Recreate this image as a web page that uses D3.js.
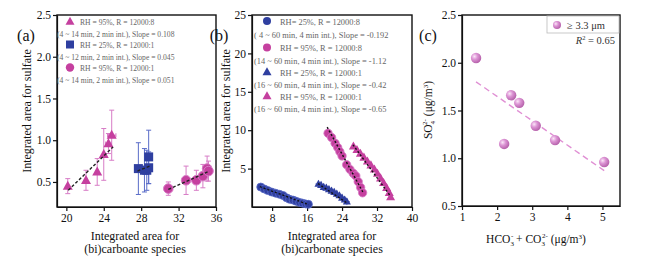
<!DOCTYPE html>
<html>
<head>
<meta charset="utf-8">
<script src="https://cdn.jsdelivr.net/npm/d3@7"></script>
<style>
  body { margin: 0; background: #fff; }
  svg { display: block; font-family: "Liberation Serif", "DejaVu Serif", serif; }
  .axis text { font-size: 11.5px; fill: #111; font-family: "Liberation Serif", serif; }
  .axis path, .axis line { stroke: #111; stroke-width: 1.2; }
  .leg { font-size: 8.4px; fill: #666; }
  .leg.small { font-size: 7.6px; }
</style>
</head>
<body>
<svg id="chart" width="646" height="262"></svg>
<script>
// ---- panel (a) data ----
const aTriX = [20.15, 22.1, 23.3, 24.0, 24.5, 24.85];
const aTriY = [0.45, 0.52, 0.62, 0.83, 0.96, 1.06];
const aTriErr = [0.09, 0.12, 0.16, 0.31, 0.12, 0.3];
const aTriXErr = [0, 0, 0, 0, 0.3, 0.45];
const aSqX = [27.7, 28.35, 28.6, 28.8, 28.8];
const aSqY = [0.66, 0.64, 0.64, 0.67, 0.8];
const aSqErr = [0.31, 0.26, 0.24, 0.19, 0.32];
const aCirX = [30.9, 32.8, 33.9, 34.6, 35.05, 35.2];
const aCirY = [0.42, 0.52, 0.52, 0.57, 0.66, 0.63];
const aCirErr = [0.08, 0.17, 0.12, 0.14, 0.15, 0.12];
const aFitTri = [[20.2, 0.4], [25.0, 0.92]];
const aFitSq = [[27.6, 0.63], [28.9, 0.69]];
const aFitCir = [[30.9, 0.41], [35.3, 0.63]];
const aXTicks = [20, 24, 28, 32, 36];
const aYTicks = [0.5, 1.0, 1.5, 2.0, 2.5];

// ---- panel (b) data ----
const bBlueCirX = [5.4, 6.2, 7.0, 7.9, 8.8, 9.7, 10.5, 11.3, 12.0, 12.8, 13.5, 14.3, 15.0, 15.7, 16.3];
const bBlueCirY = [2.6, 2.35, 2.15, 1.95, 1.8, 1.65, 1.5, 1.2, 1.0, 0.9, 0.75, 0.6, 0.5, 0.4, 0.35];
const bBlueTriX = [18.6, 19.2, 19.8, 20.4, 21.0, 21.6, 22.2, 22.8, 23.4, 24.0, 24.6, 25.1];
const bBlueTriY = [3.0, 2.85, 2.6, 2.5, 2.3, 2.1, 1.95, 1.7, 1.5, 1.2, 0.95, 0.7];
const bPinkCirX = [20.8, 21.6, 22.4, 23.0, 23.5, 24.0, 25.05, 25.8, 26.55, 27.15, 27.7, 28.25, 28.7];
const bPinkCirY = [9.6, 9.05, 8.3, 7.75, 7.2, 6.65, 5.5, 4.9, 4.4, 4.05, 3.3, 2.55, 1.85];
const bPinkTriX = [26.6, 27.4, 28.2, 29.0, 29.8, 30.6, 31.4, 32.1, 32.8, 33.5, 34.2, 34.8, 35.1];
const bPinkTriY = [7.9, 7.45, 6.95, 6.45, 5.95, 5.45, 4.9, 4.35, 3.75, 3.15, 2.5, 1.85, 1.3];
const bFits = [
  [[5.2, 2.65], [16.4, 0.3]],
  [[18.5, 3.05], [25.2, 0.5]],
  [[20.6, 10.4], [28.9, 1.8]],
  [[26.5, 8.1], [35.1, 1.4]]
];
const bXTicks = [8, 16, 24, 32, 40];
const bYTicks = [5, 10, 15, 20, 25];

// ---- panel (c) data ----
const cX = [1.4, 2.4, 2.63, 3.1, 2.2, 3.65, 5.05];
const cY = [2.05, 1.66, 1.58, 1.34, 1.15, 1.19, 0.96];
const cFit = [[1.4, 1.8], [5.05, 0.87]];
const cXTicks = [1, 2, 3, 4, 5];
const cYTicks = [0.5, 1.0, 1.5, 2.0, 2.5];

const magenta = "#c5409f";
const magentaLight = "#d77cc6";
const blue = "#2f3fa0";
const blueLight = "#5a6cc8";

const svg = d3.select("#chart");
const defs = svg.append("defs");
const grad = defs.append("radialGradient").attr("id", "sphere")
  .attr("cx", "35%").attr("cy", "35%").attr("r", "65%");
grad.append("stop").attr("offset", "0%").attr("stop-color", "#fbe6f8");
grad.append("stop").attr("offset", "45%").attr("stop-color", "#dc94d4");
grad.append("stop").attr("offset", "100%").attr("stop-color", "#b864ad");

// axes + frame for one panel
function makePanel(box, xDom, yDom, xTicks, yTicks, yFmt) {
  const x = d3.scaleLinear().domain(xDom).range([box.l, box.r]);
  const y = d3.scaleLinear().domain(yDom).range([box.b, box.t]);
  svg.append("g").attr("class", "axis")
    .attr("transform", "translate(0," + box.b + ")")
    .call(d3.axisBottom(x).tickValues(xTicks).tickSize(4).tickSizeOuter(0).tickPadding(3).tickFormat(d3.format("d")));
  svg.append("g").attr("class", "axis")
    .attr("transform", "translate(" + box.l + ",0)")
    .call(d3.axisLeft(y).tickValues(yTicks).tickSize(4).tickSizeOuter(0).tickPadding(2).tickFormat(yFmt));
  svg.append("rect")
    .attr("x", box.l).attr("y", box.t)
    .attr("width", box.r - box.l).attr("height", box.b - box.t)
    .attr("fill", "none").attr("stroke", "#111").attr("stroke-width", 1.4);
  return {x, y};
}

function tri(cx, cy, s) {
  const h = s * 0.9;
  return "M" + cx + "," + (cy - h * 0.6) + "L" + (cx + s / 2) + "," + (cy + h * 0.4) + "L" + (cx - s / 2) + "," + (cy + h * 0.4) + "Z";
}

function fitLine(sc, pts, color, dash) {
  svg.append("line")
    .attr("x1", sc.x(pts[0][0])).attr("y1", sc.y(pts[0][1]))
    .attr("x2", sc.x(pts[1][0])).attr("y2", sc.y(pts[1][1]))
    .attr("stroke", color).attr("stroke-width", 1.4).attr("stroke-dasharray", dash);
}

function errBars(sc, xs, ys, errs, xerrs, color) {
  const g = svg.append("g").attr("stroke", color).attr("stroke-width", 1);
  xs.forEach((xv, i) => {
    const px = sc.x(xv);
    const y1 = sc.y(ys[i] + errs[i]), y2 = sc.y(ys[i] - errs[i]);
    g.append("line").attr("x1", px).attr("x2", px).attr("y1", y1).attr("y2", y2);
    g.append("line").attr("x1", px - 2.5).attr("x2", px + 2.5).attr("y1", y1).attr("y2", y1);
    g.append("line").attr("x1", px - 2.5).attr("x2", px + 2.5).attr("y1", y2).attr("y2", y2);
    if (xerrs && xerrs[i] > 0) {
      const py = sc.y(ys[i]);
      const xa = sc.x(xv - xerrs[i]), xb = sc.x(xv + xerrs[i]);
      g.append("line").attr("x1", xa).attr("x2", xb).attr("y1", py).attr("y2", py);
      g.append("line").attr("x1", xa).attr("x2", xa).attr("y1", py - 2).attr("y2", py + 2);
      g.append("line").attr("x1", xb).attr("x2", xb).attr("y1", py - 2).attr("y2", py + 2);
    }
  });
}

function label(x, y, txt, size, rotate) {
  const t = svg.append("text").attr("font-size", size).attr("fill", "#111")
    .attr("text-anchor", "middle");
  if (rotate) t.attr("transform", "translate(" + x + "," + y + ") rotate(-90)");
  else t.attr("x", x).attr("y", y);
  t.text(txt);
  return t;
}

function legText(x, y, txt, cls) {
  svg.append("text").attr("class", "leg" + (cls ? " " + cls : "")).attr("x", x).attr("y", y).text(txt);
}

// ================= panel (a) =================
const A = makePanel({l: 57, r: 216, t: 15, b: 207}, [19, 36], [0.2, 2.5], aXTicks, aYTicks, d3.format(".1f"));
errBars(A, aTriX, aTriY, aTriErr, aTriXErr, magentaLight);
errBars(A, aSqX, aSqY, aSqErr, null, blueLight);
errBars(A, aCirX, aCirY, aCirErr, null, magentaLight);
svg.append("g").selectAll("path").data(aTriX).join("path")
  .attr("d", (d, i) => tri(A.x(d), A.y(aTriY[i]), 10)).attr("fill", magenta);
svg.append("g").selectAll("rect").data(aSqX).join("rect")
  .attr("x", (d) => A.x(d) - 4.5).attr("y", (d, i) => A.y(aSqY[i]) - 4.5)
  .attr("width", 9).attr("height", 9).attr("fill", blue);
svg.append("g").selectAll("circle").data(aCirX).join("circle")
  .attr("cx", (d) => A.x(d)).attr("cy", (d, i) => A.y(aCirY[i])).attr("r", 4.8)
  .attr("fill", magenta).attr("stroke", magentaLight).attr("stroke-width", 1);
fitLine(A, aFitTri, "#222", "3,2");
fitLine(A, aFitSq, "#222", "3,2");
fitLine(A, aFitCir, "#222", "3,2");

svg.append("path").attr("d", tri(70, 21.5, 9)).attr("fill", magenta);
legText(80, 25, "RH = 95%, R = 12000:8", "small");
legText(57, 36.5, "(4 ~ 14 min, 2 min int.), Slope = 0.108", "small");
svg.append("rect").attr("x", 66).attr("y", 40.5).attr("width", 8).attr("height", 8).attr("fill", blue);
legText(80, 48, "RH = 25%, R = 12000:1", "small");
legText(57, 59.5, "(4 ~ 12 min, 2 min int.), Slope = 0.045", "small");
svg.append("circle").attr("cx", 70).attr("cy", 67.5).attr("r", 4.2).attr("fill", magenta);
legText(80, 71, "RH = 95%, R = 12000:1", "small");
legText(57, 82.5, "(4 ~ 14 min, 2 min int.), Slope = 0.051", "small");

label(26, 41, "(a)", 16);
label(31, 111, "Integrated area for sulfate", 12, true);
label(135, 240, "Integrated area for", 12);
label(135, 253, "(bi)carboante species", 12);

// ================= panel (b) =================
const B = makePanel({l: 252, r: 412, t: 15, b: 207}, [3.4, 40], [0, 25], bXTicks, bYTicks, d3.format("d"));
// scattered uncertainty of the blue triangles
const gB = svg.append("g").attr("stroke", blueLight).attr("stroke-width", 0.9);
bBlueTriX.forEach((xv, i) => {
  const px = B.x(xv), py = B.y(bBlueTriY[i]);
  gB.append("line").attr("x1", B.x(xv - 0.7)).attr("x2", B.x(xv + 0.7)).attr("y1", py).attr("y2", py);
  gB.append("line").attr("x1", px).attr("x2", px).attr("y1", B.y(bBlueTriY[i] + 0.45)).attr("y2", B.y(bBlueTriY[i] - 0.45));
});
svg.append("g").selectAll("circle").data(bBlueCirX).join("circle")
  .attr("cx", (d) => B.x(d)).attr("cy", (d, i) => B.y(bBlueCirY[i])).attr("r", 4)
  .attr("fill", blue).attr("stroke", blueLight).attr("stroke-width", 0.8);
svg.append("g").selectAll("path").data(bBlueTriX).join("path")
  .attr("d", (d, i) => tri(B.x(d), B.y(bBlueTriY[i]), 8)).attr("fill", blue);
svg.append("g").selectAll("circle").data(bPinkCirX).join("circle")
  .attr("cx", (d) => B.x(d)).attr("cy", (d, i) => B.y(bPinkCirY[i])).attr("r", 4.2)
  .attr("fill", magenta).attr("stroke", magentaLight).attr("stroke-width", 0.8);
svg.append("g").selectAll("path").data(bPinkTriX).join("path")
  .attr("d", (d, i) => tri(B.x(d), B.y(bPinkTriY[i]), 9)).attr("fill", magenta);
bFits.forEach((f) => fitLine(B, f, "#111", "2,2"));

svg.append("circle").attr("cx", 267).attr("cy", 21).attr("r", 4).attr("fill", blue);
legText(280, 24.5, "RH= 25%, R = 12000:8");
legText(254, 38, "( 4 ~ 60 min, 4 min int.),  Slope = -0.192");
svg.append("circle").attr("cx", 267).attr("cy", 47.5).attr("r", 4).attr("fill", magenta);
legText(280, 51, "RH = 95%, R = 12000:8");
legText(254, 63.5, "(14 ~ 60 min, 4 min int.), Slope = -1.12");
svg.append("path").attr("d", tri(267, 72, 9)).attr("fill", blue);
legText(280, 75.5, "RH = 25%, R = 12000:1");
legText(254, 88, "(16 ~ 60 min, 4 min int.), Slope = -0.42");
svg.append("path").attr("d", tri(267, 96, 9)).attr("fill", magenta);
legText(280, 99.5, "RH = 95%, R = 12000:1");
legText(254, 112, "(16 ~ 60 min, 4 min int.), Slope = -0.65");

label(219, 41, "(b)", 16);
label(230, 111, "Integrated area for sulfate", 12, true);
label(332, 240, "Integrated area for", 12);
label(332, 253, "(bi)carbonate species", 12);

// ================= panel (c) =================
const C = makePanel({l: 462, r: 620, t: 15, b: 206}, [1, 5.5], [0.5, 2.5], cXTicks, cYTicks, d3.format(".1f"));
fitLine(C, cFit, "#e08fd4", "6,4");
svg.append("g").selectAll("circle").data(cX).join("circle")
  .attr("cx", (d) => C.x(d)).attr("cy", (d, i) => C.y(cY[i])).attr("r", 5.2)
  .attr("fill", "url(#sphere)");
svg.append("rect").attr("x", 547).attr("y", 16).attr("width", 72).attr("height", 17)
  .attr("fill", "#fff").attr("stroke", "#bbb").attr("stroke-width", 0.8);
svg.append("circle").attr("cx", 557).attr("cy", 25).attr("r", 4).attr("fill", "url(#sphere)");
svg.append("text").attr("x", 567).attr("y", 28.5).attr("font-size", 10.5).attr("fill", "#333").text("≥ 3.3 μm");
const r2 = svg.append("text").attr("x", 615).attr("y", 44).attr("font-size", 10.5)
  .attr("fill", "#333").attr("text-anchor", "end");
r2.append("tspan").attr("font-style", "italic").text("R");
r2.append("tspan").attr("font-size", 6.5).attr("dy", -4).text("2");
r2.append("tspan").attr("dy", 4).text(" = 0.65");

label(428, 41, "(c)", 16);
const yl = svg.append("text").attr("font-size", 11.5).attr("fill", "#111").attr("text-anchor", "middle")
  .attr("transform", "translate(432,110) rotate(-90)");
yl.append("tspan").text("SO");
yl.append("tspan").attr("font-size", 7).attr("dy", 3).text("4");
yl.append("tspan").attr("font-size", 7).attr("dx", -4).attr("dy", -8).text("2-");
yl.append("tspan").attr("dy", 5).text(" (μg/m");
yl.append("tspan").attr("font-size", 7).attr("dy", -4).text("3");
yl.append("tspan").attr("dy", 4).text(")");

const xl = svg.append("text").attr("font-size", 11.5).attr("fill", "#111").attr("text-anchor", "middle")
  .attr("x", 536).attr("y", 243);
xl.append("tspan").text("HCO");
xl.append("tspan").attr("font-size", 7).attr("dy", 3).text("3");
xl.append("tspan").attr("font-size", 7).attr("dx", -3).attr("dy", -8).text("-");
xl.append("tspan").attr("dy", 5).text(" + CO");
xl.append("tspan").attr("font-size", 7).attr("dy", 3).text("3");
xl.append("tspan").attr("font-size", 7).attr("dx", -3).attr("dy", -8).text("2-");
xl.append("tspan").attr("dy", 5).text(" (μg/m");
xl.append("tspan").attr("font-size", 7).attr("dy", -4).text("3");
xl.append("tspan").attr("dy", 4).text(")");
</script>
</body>
</html>
